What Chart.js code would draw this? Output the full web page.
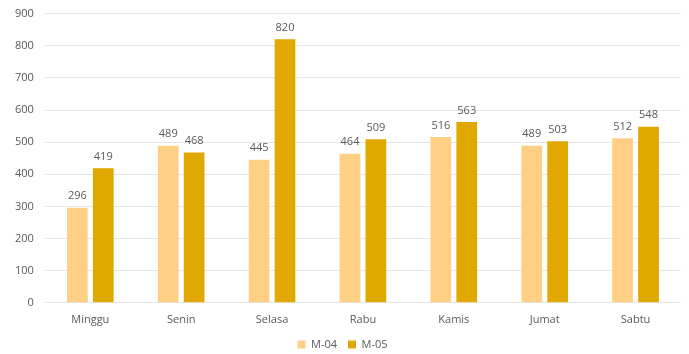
<!DOCTYPE html>
<html>
<head>
<meta charset="utf-8">
<script src="https://cdn.jsdelivr.net/npm/chart.js@4/dist/chart.umd.min.js"></script>
<style>
    html, body { margin: 0; padding: 0; background: #fff; overflow: hidden; }
    #wrap { width: 689px; height: 358px; margin-top: -4px; }
</style>
</head>
<body>
<div id="wrap"><canvas id="dayChart"></canvas></div>
<script>
const days = ['Minggu', 'Senin', 'Selasa', 'Rabu', 'Kamis', 'Jumat', 'Sabtu'];
const m04 = [296, 489, 445, 464, 516, 489, 512];
const m05 = [419, 468, 820, 509, 563, 503, 548];

// value text above each bar
const barValues = {
    id: 'barValues',
    afterDatasetsDraw(chart) {
        const ctx = chart.ctx;
        ctx.save();
        ctx.font = '11px "Open Sans", sans-serif';
        ctx.fillStyle = '#595959';
        ctx.textAlign = 'center';
        ctx.textBaseline = 'bottom';
        chart.data.datasets.forEach((ds, i) => {
            chart.getDatasetMeta(i).data.forEach((bar, j) => {
                ctx.fillText(ds.data[j], bar.x, bar.y - 6);
            });
        });
        ctx.restore();
    }
};

document.addEventListener('DOMContentLoaded', () => {
    const el = document.getElementById('dayChart');

    new Chart(el, {
        type: 'bar',
        data: {
            labels: days,
            datasets: [{
                label: 'M-04',
                data: m04,
                backgroundColor: '#FFCF86',
            }, {
                label: 'M-05',
                data: m05,
                backgroundColor: '#E0A800',
            }],
        },
        options: {
            responsive: true,
            maintainAspectRatio: false,
            animation: false,
            categoryPercentage: 0.57,
            barPercentage: 0.8,
            layout: {
                padding: { left: 4, right: 8, top: 0, bottom: -6 },
            },
            scales: {
                x: {
                    grid: { display: false },
                    border: { display: false },
                    ticks: {
                        color: '#595959',
                        font: { family: 'Open Sans', size: 11 },
                        padding: 2,
                    },
                },
                y: {
                    min: 0,
                    max: 900,
                    ticks: {
                        stepSize: 100,
                        color: '#595959',
                        font: { family: 'Open Sans', size: 11 },
                        padding: 11,
                    },
                    grid: { color: '#e6e6e6', drawTicks: false },
                    border: { display: false },
                },
            },
            plugins: {
                legend: {
                    position: 'bottom',
                    labels: {
                        boxWidth: 8,
                        boxHeight: 8,
                        padding: 11,
                        color: '#595959',
                        font: { family: 'Open Sans', size: 11 },
                    },
                },
                tooltip: { enabled: false },
            },
        },
        plugins: [barValues],
    });
});
</script>
</body>
</html>
